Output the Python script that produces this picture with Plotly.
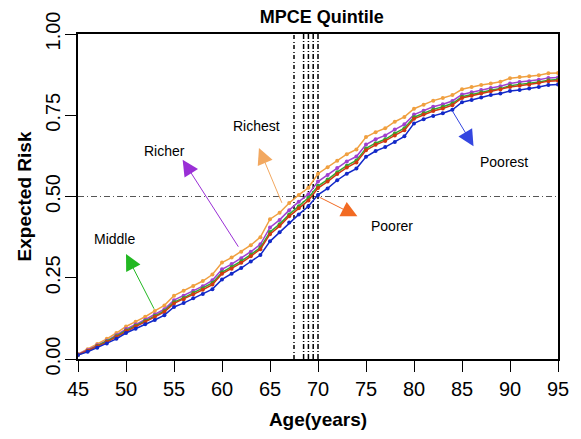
import plotly.graph_objects as go

# Age axis (years)
ages = list(range(45, 96))

# Expected risk by MPCE quintile, one value per year of age
richest = [0.015, 0.030, 0.046, 0.062, 0.080, 0.100, 0.115, 0.130, 0.148, 0.165,
           0.195, 0.210, 0.225, 0.240, 0.260, 0.297, 0.312, 0.330, 0.350, 0.375,
           0.430, 0.450, 0.480, 0.505, 0.527, 0.570, 0.590, 0.610, 0.630, 0.645,
           0.683, 0.698, 0.710, 0.730, 0.745, 0.770, 0.782, 0.795, 0.803, 0.812,
           0.830, 0.837, 0.843, 0.848, 0.853, 0.864, 0.868, 0.870, 0.873, 0.879,
           0.880]
richer = [0.014, 0.027, 0.042, 0.056, 0.073, 0.092, 0.106, 0.121, 0.137, 0.153,
          0.181, 0.195, 0.210, 0.224, 0.242, 0.276, 0.292, 0.310, 0.330, 0.353,
          0.405, 0.428, 0.458, 0.484, 0.507, 0.546, 0.566, 0.588, 0.608, 0.623,
          0.660, 0.676, 0.688, 0.706, 0.722, 0.752, 0.764, 0.776, 0.784, 0.794,
          0.814, 0.821, 0.828, 0.834, 0.839, 0.848, 0.852, 0.855, 0.859, 0.865,
          0.866]
middle = [0.013, 0.025, 0.040, 0.054, 0.070, 0.088, 0.102, 0.117, 0.132, 0.148,
          0.175, 0.188, 0.203, 0.217, 0.234, 0.267, 0.283, 0.301, 0.321, 0.343,
          0.391, 0.415, 0.445, 0.470, 0.496, 0.532, 0.552, 0.575, 0.595, 0.611,
          0.648, 0.664, 0.676, 0.694, 0.710, 0.744, 0.756, 0.768, 0.776, 0.786,
          0.807, 0.814, 0.821, 0.827, 0.832, 0.841, 0.845, 0.848, 0.852, 0.858,
          0.860]
poorer = [0.013, 0.025, 0.039, 0.052, 0.068, 0.086, 0.100, 0.114, 0.129, 0.145,
          0.171, 0.184, 0.199, 0.213, 0.229, 0.262, 0.278, 0.296, 0.316, 0.338,
          0.384, 0.409, 0.439, 0.464, 0.488, 0.526, 0.546, 0.569, 0.589, 0.605,
          0.642, 0.659, 0.671, 0.688, 0.704, 0.739, 0.752, 0.763, 0.771, 0.781,
          0.803, 0.810, 0.817, 0.824, 0.829, 0.837, 0.841, 0.844, 0.849, 0.855,
          0.856]
poorest = [0.012, 0.022, 0.035, 0.048, 0.062, 0.080, 0.093, 0.107, 0.120, 0.135,
           0.160, 0.172, 0.187, 0.200, 0.215, 0.245, 0.262, 0.280, 0.300, 0.320,
           0.362, 0.390, 0.420, 0.445, 0.470, 0.505, 0.525, 0.550, 0.570, 0.586,
           0.622, 0.640, 0.652, 0.668, 0.685, 0.725, 0.738, 0.748, 0.756, 0.767,
           0.790, 0.797, 0.805, 0.812, 0.817, 0.825, 0.828, 0.832, 0.837, 0.843,
           0.845]

# Age at which each quintile reaches a 50% expected risk
median_ages = [67.5, 68.5, 69.0, 69.5, 70.0]
median_dash = ["4px,2px,1px,3px", "5px,2px,1px,2px", "5px,2px,1px,2px",
               "5px,2px,1px,2px", "5px,2px,1px,2px"]

quintiles = ["Richest", "Richer", "Middle", "Poorer", "Poorest"]
series = [richest, richer, middle, poorer, poorest]
line_colors = ["#F0A040", "#A040D0", "#30A830", "#D03A10", "#1228C8"]
arrow_colors = ["#F2A860", "#9A2FD6", "#22B822", "#F26A22", "#3446E0"]

# Label placement: (arrow tail on curve, arrow head, text position)
tails = [(66.3, 0.476), (61.8, 0.341), (53.0, 0.150), (70.0, 0.500), (83.9, 0.768)]
heads = [(63.85, 0.649), (55.9, 0.613), (50.0, 0.323), (74.1, 0.439), (86.2, 0.655)]
label_pos = [(63.6, 0.716), (54.0, 0.640), (48.8, 0.369), (77.7, 0.410), (89.4, 0.607)]

FONT = "Arial, Liberation Sans, sans-serif"

fig = go.Figure()

for name, vals, col in zip(quintiles, series, line_colors):
    fig.add_trace(go.Scatter(
        x=ages, y=vals, name=name, mode="lines+markers",
        line=dict(color=col, width=1.5),
        marker=dict(color=col, size=4),
        showlegend=False,
    ))

# Reference lines: 50% risk level and median ages
fig.add_shape(type="line", xref="x", yref="y", x0=45, x1=95, y0=0.5, y1=0.5,
              line=dict(color="#555555", width=1, dash="6px,3px,1px,3px"), layer="below")
for a, d in zip(median_ages, median_dash):
    fig.add_shape(type="line", xref="x", yref="y", x0=a, x1=a, y0=0, y1=1,
                  line=dict(color="black", width=1.5, dash=d), layer="below")

# Arrows pointing from each curve to its label
for name, col, t, h, lp in zip(quintiles, arrow_colors, tails, heads, label_pos):
    fig.add_annotation(x=h[0], y=h[1], ax=t[0], ay=t[1], xref="x", yref="y",
                       axref="x", ayref="y", text="", showarrow=True,
                       arrowhead=2, arrowsize=3.2, arrowwidth=1, arrowcolor=col)
    fig.add_annotation(x=lp[0], y=lp[1], xref="x", yref="y", text=name,
                       showarrow=False, font=dict(family=FONT, size=14, color="black"))

fig.update_layout(
    width=581, height=439,
    margin=dict(l=78, r=15, t=31, b=80),
    paper_bgcolor="white", plot_bgcolor="white",
    title=dict(text="<b>MPCE Quintile</b>", x=0.554, xanchor="center",
               y=0.962, yanchor="middle",
               font=dict(family=FONT, size=18, color="black")),
    font=dict(family=FONT, color="black"),
)
fig.update_xaxes(
    range=[45, 95], tickvals=list(range(45, 96, 5)),
    showgrid=False, zeroline=False,
    showline=True, linecolor="black", linewidth=1.5, mirror=True,
    ticks="outside", ticklen=11, tickwidth=1, tickcolor="black",
    tickfont=dict(family=FONT, size=20),
    title=dict(text="<b>Age(years)</b>", font=dict(family=FONT, size=19), standoff=14),
)
fig.update_yaxes(
    range=[0, 1], tickvals=[0, 0.25, 0.5, 0.75, 1.0], tickformat=".2f",
    tickangle=-90, ticklabelstandoff=-3,
    showgrid=False, zeroline=False,
    showline=True, linecolor="black", linewidth=1.5, mirror=True,
    ticks="outside", ticklen=11, tickwidth=1, tickcolor="black",
    tickfont=dict(family=FONT, size=20),
    title=dict(text="<b>Expected Risk</b>", font=dict(family=FONT, size=19), standoff=6),
)

fig.write_html("out.html")
